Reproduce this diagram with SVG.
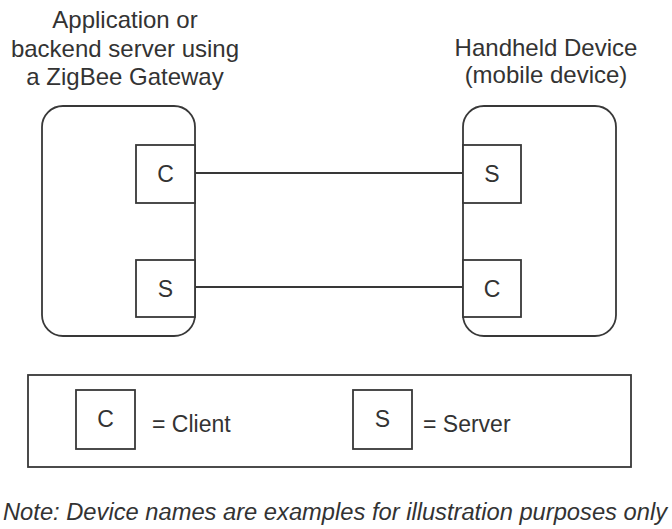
<svg xmlns="http://www.w3.org/2000/svg" width="672" height="529" viewBox="0 0 672 529">
<style>
.s{fill:none;stroke:#383838;stroke-width:1.8}
.w{fill:#fff;stroke:#383838;stroke-width:1.8}
.t{font-family:"Liberation Sans",Arial,sans-serif;fill:#333;font-size:24px}
.l{font-family:"Liberation Sans",Arial,sans-serif;fill:#333;font-size:23px;text-anchor:middle}
.c{text-anchor:middle}
</style>
<rect width="672" height="529" fill="#fff"/>
<g id="app-server">
<text class="t c" x="125" y="28">Application or</text>
<text class="t c" x="125" y="57">backend server using</text>
<text class="t c" x="125" y="85">a ZigBee Gateway</text>
<rect class="w" x="42" y="106" width="153" height="230" rx="21"/>
</g>
<g id="handheld">
<text class="t c" x="546" y="56">Handheld Device</text>
<text class="t c" x="546" y="83">(mobile device)</text>
<rect class="w" x="463" y="106" width="153" height="230" rx="21"/>
</g>
<g id="app-client">
<rect class="w" x="136" y="145" width="59" height="58"/>
<text class="l" x="165.5" y="182">C</text>
</g>
<g id="app-server-cluster">
<rect class="w" x="136" y="260" width="59" height="57"/>
<text class="l" x="165.5" y="297">S</text>
</g>
<g id="handheld-server">
<rect class="w" x="463" y="145" width="58" height="58"/>
<text class="l" x="492" y="182">S</text>
</g>
<g id="handheld-client">
<rect class="w" x="463" y="260" width="58" height="57"/>
<text class="l" x="492" y="297">C</text>
</g>
<g id="connectors">
<line class="s" x1="195" y1="173" x2="463" y2="173"/>
<line class="s" x1="195" y1="287" x2="463" y2="287"/>
</g>
<g id="legend">
<rect class="s" x="28" y="375" width="603" height="92"/>
<rect class="s" x="76" y="390" width="59" height="59"/>
<text class="l" x="105.5" y="427">C</text>
<text class="t" x="152" y="432" style="font-size:23px">= Client</text>
<rect class="s" x="353" y="390" width="59" height="59"/>
<text class="l" x="382.5" y="427">S</text>
<text class="t" x="423" y="432" style="font-size:23px">= Server</text>
</g>
<g id="note">
<text class="t" x="3" y="520" style="font-style:italic;font-size:23.5px" textLength="664" lengthAdjust="spacingAndGlyphs">Note: Device names are examples for illustration purposes only</text>
</g>
</svg>
